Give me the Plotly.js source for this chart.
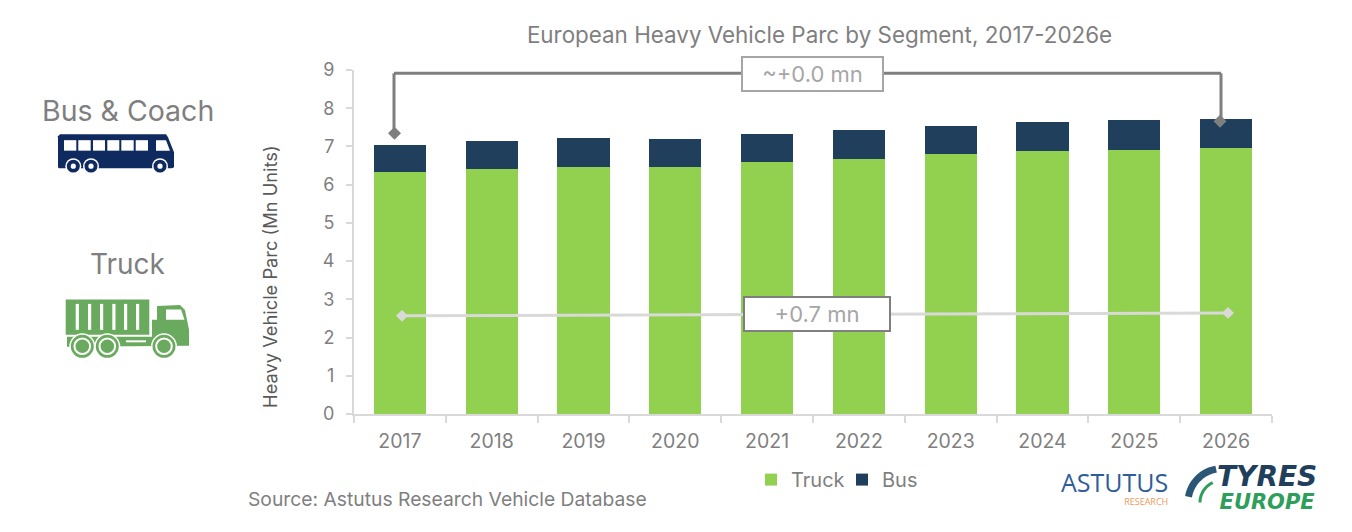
<!DOCTYPE html>
<html>
<head>
<meta charset="utf-8">
<script src="https://cdn.plot.ly/plotly-3.0.1.min.js"></script>
<style>html, body { margin: 0; background: #fff; }</style>
</head>
<body>
<div id="chart" style="width:1352px;height:532px;"></div>
<script>
const years = ['2017', '2018', '2019', '2020', '2021', '2022', '2023', '2024', '2025', '2026'];
const truck = [6.32, 6.40, 6.46, 6.46, 6.59, 6.68, 6.79, 6.88, 6.91, 6.96];
const bus = [0.73, 0.73, 0.76, 0.74, 0.73, 0.74, 0.74, 0.77, 0.77, 0.77];
const yTicks = [0, 1, 2, 3, 4, 5, 6, 7, 8, 9];

const FONT = 'Inter, "Open Sans", sans-serif';
const LOGO = '"DejaVu Sans", sans-serif';
const GREY = '#7f7f7f';
const AXIS = '#d9d9d9';
const GREEN = '#92d050';
const NAVY = '#1f3f5c';
const BUSBLUE = '#0f2a5f';
const TRUCKGREEN = '#6aaa5e';

// plot area in page pixels, overlay stuff is placed from these
const L = 354, R = 1272, T = 69.7, B = 414.3;
const px = x => (x - L) / (R - L);
const py = y => (B - y) / (B - T);

function line(x0, y0, x1, y1, color, width) {
    return { type: 'line', xref: 'paper', yref: 'paper', x0: px(x0), y0: py(y0), x1: px(x1), y1: py(y1),
        line: { color: color, width: width } };
}
function rect(x0, y0, x1, y1, color) {
    return { type: 'rect', xref: 'paper', yref: 'paper', x0: px(x0), y0: py(y0), x1: px(x1), y1: py(y1),
        fillcolor: color, line: { width: 0 } };
}
function circ(x, y, r, color) {
    return { type: 'circle', xref: 'paper', yref: 'paper', x0: px(x - r), y0: py(y - r), x1: px(x + r), y1: py(y + r),
        fillcolor: color, line: { width: 0 } };
}
function poly(points, color) {
    const d = points.map((p, i) => (i ? 'L' : 'M') + px(p[0]) + ',' + py(p[1])).join(' ') + ' Z';
    return { type: 'path', xref: 'paper', yref: 'paper', path: d, fillcolor: color, line: { width: 0 } };
}
function diamond(x, y, r, color) {
    return poly([[x, y - r], [x + r, y], [x, y + r], [x - r, y]], color);
}
function arc(cx, cy, r, a0, a1, color, width) {
    let d = '';
    for (let a = a0; a <= a1; a += 5) {
        const t = a * Math.PI / 180;
        d += (d ? 'L' : 'M') + px(cx + r * Math.cos(t)) + ',' + py(cy - r * Math.sin(t)) + ' ';
    }
    return { type: 'path', xref: 'paper', yref: 'paper', path: d, line: { color: color, width: width } };
}

function busIcon() {
    const s = [];
    s.push(poly([[58, 136], [60, 134], [166, 134], [168, 137], [174, 152], [174, 167], [172, 168], [59, 168], [58, 167]], BUSBLUE));
    [[64, 76.3], [78.3, 90.7], [93, 105], [107.3, 119.3], [121.3, 133.7], [135.7, 148]].forEach(w => {
        s.push(rect(w[0], 140, w[1], 150.5, '#fff'));
    });
    s.push(poly([[156, 140], [166, 140], [170, 150.5], [156, 150.5]], '#fff'));
    [73.3, 91, 160].forEach(x => {
        s.push(circ(x, 166, 8, '#fff'));
        s.push(circ(x, 166, 6.5, BUSBLUE));
        s.push(circ(x, 166, 2.6, '#fff'));
    });
    return s;
}

function truckIcon() {
    const s = [];
    s.push(rect(65.7, 299.5, 149.3, 335, TRUCKGREEN));
    [75.7, 88, 100, 112.3, 124, 136].forEach(x => s.push(rect(x, 304, x + 3.2, 330, '#fff')));
    s.push(poly([[67, 337], [152, 337], [152, 320], [157, 320], [157, 306], [180, 305], [185, 310], [189, 330], [189, 346], [67, 347]], TRUCKGREEN));
    s.push(poly([[166, 309.5], [181, 309.5], [184.5, 320], [166, 320]], '#fff'));
    s.push(rect(126, 340.5, 146, 342.5, '#fff'));
    [82.3, 107.3, 164].forEach(x => {
        s.push(circ(x, 346.5, 13, '#fff'));
        s.push(circ(x, 346.5, 11.5, TRUCKGREEN));
        s.push(circ(x, 346.5, 8.8, '#fff'));
        s.push(circ(x, 346.5, 6.8, TRUCKGREEN));
    });
    return s;
}

function note(text, x, y, size, color, extra) {
    return Object.assign({ text: text, xref: 'paper', yref: 'paper', x: px(x), y: py(y), xanchor: 'center', yanchor: 'middle',
        showarrow: false, font: { family: FONT, size: size, color: color } }, extra || {});
}

const data = [
    { type: 'bar', name: 'Truck', x: years, y: truck, marker: { color: GREEN }, showlegend: false },
    { type: 'bar', name: 'Bus', x: years, y: bus, marker: { color: NAVY }, showlegend: false },
    { type: 'scatter', name: 'Truck', x: [null], y: [null], mode: 'markers', marker: { symbol: 'square', size: 12, color: GREEN } },
    { type: 'scatter', name: 'Bus', x: [null], y: [null], mode: 'markers', marker: { symbol: 'square', size: 12, color: NAVY } }
];

const layout = {
    width: 1352,
    height: 532,
    margin: { l: L, r: 1352 - R, t: T, b: 532 - B, pad: 0 },
    paper_bgcolor: '#fff',
    plot_bgcolor: '#fff',
    barmode: 'stack',
    bargap: 0.43,
    font: { family: FONT, color: GREY },
    title: { text: 'European Heavy Vehicle Parc by Segment, 2017-2026e', font: { family: FONT, size: 22.4, color: GREY },
        x: px(819.5), xref: 'paper', xanchor: 'center', y: 1 - 35 / 532, yref: 'container', yanchor: 'middle' },
    xaxis: { type: 'category', range: [-0.5, 9.5], showline: true, linecolor: AXIS, linewidth: 2, ticks: 'outside', ticklen: 7,
        tickcolor: AXIS, tickwidth: 2, tickson: 'boundaries', showgrid: false, ticklabelstandoff: 9,
        tickfont: { family: FONT, size: 19.5, color: GREY } },
    yaxis: { range: [0, 9], tickvals: yTicks, showline: true, linecolor: AXIS, linewidth: 2, ticks: 'outside', ticklen: 6,
        tickcolor: AXIS, tickwidth: 2, showgrid: false, zeroline: false, ticklabelstandoff: 8,
        tickfont: { family: FONT, size: 18, color: GREY } },
    legend: { orientation: 'h', traceorder: 'normal', x: px(751), y: py(480), xanchor: 'left', yanchor: 'middle',
        font: { family: FONT, size: 20, color: GREY }, itemwidth: 30, entrywidth: 46, entrywidthmode: 'pixels' },
    shapes: [
        line(394, 73, 1221, 73, GREY, 3),
        line(394, 73, 394, 130, GREY, 3),
        line(1221, 73, 1221, 118, GREY, 3),
        diamond(394.5, 133, 6.5, GREY),
        diamond(1220, 121, 6.5, GREY),
        line(402, 316, 1228, 313, AXIS, 3),
        diamond(402, 316, 6, AXIS),
        diamond(1228, 313, 6, AXIS)
    ].concat(busIcon(), truckIcon(), [
        // tyre swoosh in the logo
        arc(1222, 503, 34, 100, 170, '#2b5675', 7),
        arc(1222, 503, 22, 115, 180, '#2e9e5b', 3)
    ]),
    annotations: [
        note('~+0.0 mn', 812.5, 74, 22, '#a6a6a6', { bgcolor: '#fff', bordercolor: '#a6a6a6', borderwidth: 2, width: 137, height: 30 }),
        note('+0.7 mn', 817, 314, 22, '#a6a6a6', { bgcolor: '#fff', bordercolor: '#7f7f7f', borderwidth: 2, width: 142, height: 30 }),
        note('Heavy Vehicle Parc (Mn Units)', 270, 277, 18.3, '#595959', { textangle: -90 }),
        note('Bus &amp; Coach', 127.5, 110, 28.5, GREY),
        note('Truck', 127, 264, 28, GREY),
        note('Source: Astutus Research Vehicle Database', 447.5, 499, 19.3, GREY),
        // logos: one text each so the two lines sit tight, line pitch comes from the base size
        note('<span style="font-size:25px;color:#2f5d9b">ASTUTUS</span><br><span style="font-size:9px;color:#ee9a5a">RESEARCH</span>',
            1170, 487, 10, '#2f5d9b', { xanchor: 'right', align: 'right', font: { family: '"Open Sans", sans-serif', size: 10, color: '#2f5d9b' } }),
        note('<b><i><span style="font-size:28px;color:#1f3f5c">TYRES</span><br><span style="font-size:21px;color:#2e9e5b">EUROPE</span></i></b>',
            1267, 487, 18, NAVY, { font: { family: LOGO, size: 18, color: NAVY } })
    ]
};

Plotly.newPlot('chart', data, layout, { displayModeBar: false });
</script>
</body>
</html>
